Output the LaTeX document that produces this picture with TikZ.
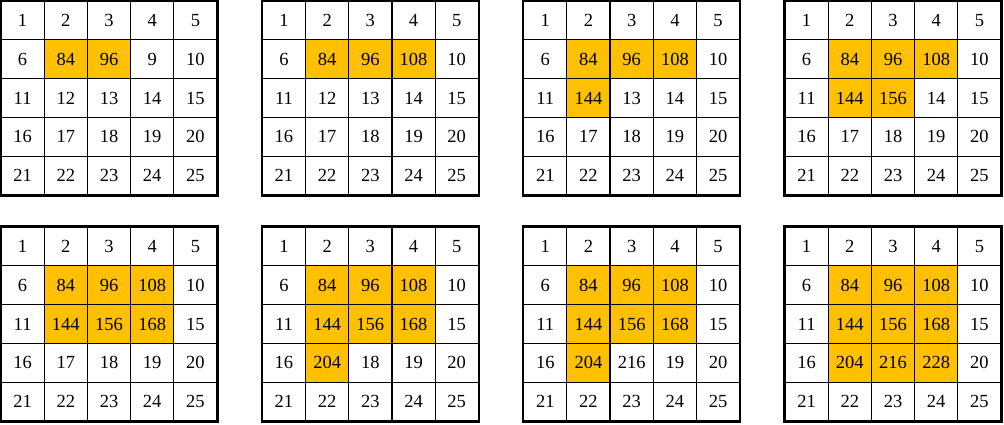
\documentclass[tikz,border=0pt]{standalone}
\usepackage{fontspec}
\setmainfont{Liberation Serif}
\definecolor{hl}{HTML}{FFC000}
\tikzset{
  cell/.style={draw=black, line width=1.2pt, minimum width=43.2pt, minimum height=38.8pt, inner sep=0pt, font=\fontsize{18.5}{20}\selectfont},
  on/.style={fill=hl},
  off/.style={},
  frame/.style={draw=black, line width=2pt}
}
\newcommand\mygrid[4]{%
  \foreach \v/\f [count=\i from 0] in {#4} {
    \pgfmathtruncatemacro\rr{int(\i/5)}
    \pgfmathtruncatemacro\cc{mod(\i,5)}
    \pgfmathsetmacro\xx{#1+21.6+43.2*\cc}
    \pgfmathsetmacro\yy{#2+19.4+38.8*\rr}
    \node[cell, \f] (#3c\i) at (\xx,\yy) {\v};
  }
  \draw[frame] (#3c0.north west) rectangle (#3c24.south east);
}
\begin{document}
\begin{tikzpicture}[x=1pt,y=-1pt]
\useasboundingbox (0,0) rectangle (1004,424);
\mygrid{1}{1}{ga}{1/off,2/off,3/off,4/off,5/off,6/off,84/on,96/on,9/off,10/off,11/off,12/off,13/off,14/off,15/off,16/off,17/off,18/off,19/off,20/off,21/off,22/off,23/off,24/off,25/off}
\mygrid{262.33}{1}{gb}{1/off,2/off,3/off,4/off,5/off,6/off,84/on,96/on,108/on,10/off,11/off,12/off,13/off,14/off,15/off,16/off,17/off,18/off,19/off,20/off,21/off,22/off,23/off,24/off,25/off}
\mygrid{523.67}{1}{gc}{1/off,2/off,3/off,4/off,5/off,6/off,84/on,96/on,108/on,10/off,11/off,144/on,13/off,14/off,15/off,16/off,17/off,18/off,19/off,20/off,21/off,22/off,23/off,24/off,25/off}
\mygrid{785}{1}{gd}{1/off,2/off,3/off,4/off,5/off,6/off,84/on,96/on,108/on,10/off,11/off,144/on,156/on,14/off,15/off,16/off,17/off,18/off,19/off,20/off,21/off,22/off,23/off,24/off,25/off}
\mygrid{1}{227}{ge}{1/off,2/off,3/off,4/off,5/off,6/off,84/on,96/on,108/on,10/off,11/off,144/on,156/on,168/on,15/off,16/off,17/off,18/off,19/off,20/off,21/off,22/off,23/off,24/off,25/off}
\mygrid{262.33}{227}{gf}{1/off,2/off,3/off,4/off,5/off,6/off,84/on,96/on,108/on,10/off,11/off,144/on,156/on,168/on,15/off,16/off,204/on,18/off,19/off,20/off,21/off,22/off,23/off,24/off,25/off}
\mygrid{523.67}{227}{gg}{1/off,2/off,3/off,4/off,5/off,6/off,84/on,96/on,108/on,10/off,11/off,144/on,156/on,168/on,15/off,16/off,204/on,216/off,19/off,20/off,21/off,22/off,23/off,24/off,25/off}
\mygrid{785}{227}{gh}{1/off,2/off,3/off,4/off,5/off,6/off,84/on,96/on,108/on,10/off,11/off,144/on,156/on,168/on,15/off,16/off,204/on,216/on,228/on,20/off,21/off,22/off,23/off,24/off,25/off}
\end{tikzpicture}
\end{document}
